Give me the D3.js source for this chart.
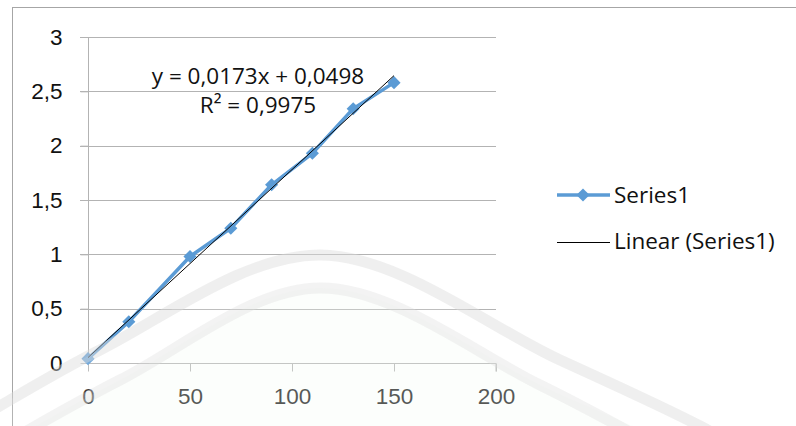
<!DOCTYPE html>
<html>
<head>
<meta charset="utf-8">
<script src="https://cdn.jsdelivr.net/npm/d3@7"></script>
<style>
  body { margin: 0; background: #fff; }
  svg { display: block; font-family: "Open Sans", Lato, sans-serif; }
</style>
</head>
<body>
<script>
// data
const xValues = [0, 20, 50, 70, 90, 110, 130, 150];
const yValues = [0.04, 0.38, 0.98, 1.24, 1.64, 1.93, 2.34, 2.58];
const xTicks = [0, 50, 100, 150, 200];
const yTicks = [0, 0.5, 1, 1.5, 2, 2.5, 3];
const slope = 0.0173;
const intercept = 0.0498;
const eqLabels = ["y = 0,0173x + 0,0498", "R² = 0,9975"];
const legendLabels = ["Series1", "Linear (Series1)"];

const width = 796;
const height = 426;
const blue = "#5b9bd5";
const fontSize = 22.5;

const svg = d3.select("body")
  .append("svg")
  .attr("width", width)
  .attr("height", height);

// outer chart frame
svg.append("rect")
  .attr("x", 12.5).attr("y", 7.5)
  .attr("width", 800).attr("height", 440)
  .attr("fill", "none")
  .attr("stroke", "#a6a6a6");

const xScale = d3.scaleLinear().domain([0, 200]).range([88, 496]);
const yScale = d3.scaleLinear().domain([0, 3]).range([363, 37]);

const fmt = (v) => String(v).replace(".", ",");

// gridlines
svg.append("g")
  .selectAll("line")
  .data(yTicks.filter((d) => d > 0))
  .join("line")
  .attr("x1", 80).attr("x2", xScale(200))
  .attr("y1", (d) => Math.round(yScale(d)) + 0.5)
  .attr("y2", (d) => Math.round(yScale(d)) + 0.5)
  .attr("stroke", "#b3b3b3");

// y axis
const yAxis = d3.axisLeft(yScale).tickValues(yTicks).tickSize(8).tickFormat(fmt);
const gy = svg.append("g")
  .attr("transform", "translate(" + (xScale(0) + 0.5) + ",0)")
  .call(yAxis);
gy.select(".domain").attr("stroke", "#b3b3b3").attr("d", "M0," + yScale(3) + "V" + yScale(0));
gy.selectAll(".tick line").attr("stroke", "#b3b3b3");
gy.selectAll(".tick text")
  .attr("x", -26)
  .attr("font-size", fontSize)
  .attr("fill", "#111");

// x axis
const xAxis = d3.axisBottom(xScale).tickValues(xTicks).tickSize(8).tickFormat(fmt);
const gx = svg.append("g")
  .attr("transform", "translate(0," + (Math.round(yScale(0)) + 0.5) + ")")
  .call(xAxis);
gx.select(".domain").attr("stroke", "#b3b3b3").attr("d", "M" + xScale(0) + ",0H" + xScale(200) + "V8");
gx.selectAll(".tick line").attr("stroke", "#b3b3b3");
gx.selectAll(".tick text")
  .attr("y", 25)
  .attr("font-size", fontSize)
  .attr("fill", "#1a1a1a");

// series line
const pts = xValues.map((x, i) => ({ x: x, y: yValues[i] }));
const lineGen = d3.line()
  .x((d) => xScale(d.x))
  .y((d) => yScale(d.y));

svg.append("path")
  .attr("d", lineGen(pts))
  .attr("fill", "none")
  .attr("stroke", blue)
  .attr("stroke-width", 3.5)
  .attr("stroke-linejoin", "round");

const diamond = d3.symbol().type(d3.symbolDiamond2).size(110);
svg.append("g")
  .selectAll("path")
  .data(pts)
  .join("path")
  .attr("transform", (d) => "translate(" + xScale(d.x) + "," + yScale(d.y) + ")")
  .attr("d", diamond)
  .attr("fill", blue);

// linear trendline
const trend = [0, 150].map((x) => ({ x: x, y: slope * x + intercept }));
svg.append("path")
  .attr("d", lineGen(trend))
  .attr("fill", "none")
  .attr("stroke", "#000")
  .attr("stroke-width", 1);

// equation label
svg.append("g")
  .selectAll("text")
  .data(eqLabels)
  .join("text")
  .attr("x", 258)
  .attr("y", (d, i) => 84 + i * 29)
  .attr("text-anchor", "middle")
  .attr("font-size", fontSize)
  .attr("fill", "#111")
  .text((d) => d);

// legend
const legend = svg.append("g");
legend.append("line")
  .attr("x1", 557).attr("x2", 610)
  .attr("y1", 195).attr("y2", 195)
  .attr("stroke", blue).attr("stroke-width", 3.5);
legend.append("path")
  .attr("transform", "translate(583,195)")
  .attr("d", diamond)
  .attr("fill", blue);
legend.append("line")
  .attr("x1", 557).attr("x2", 610)
  .attr("y1", 242.5).attr("y2", 242.5)
  .attr("stroke", "#000").attr("stroke-width", 1);
legend.selectAll("text")
  .data(legendLabels)
  .join("text")
  .attr("x", 614)
  .attr("y", (d, i) => 203 + i * 46)
  .attr("font-size", fontSize)
  .attr("fill", "#111")
  .text((d) => d);

// faint watermark over the lower part of the page
const wm = svg.append("g").attr("pointer-events", "none");
const dome = d3.line().curve(d3.curveCatmullRom);
const outer = [[-40, 430], [100, 350], [320, 255], [560, 360], [700, 426], [760, 460]];
const inner = [[-40, 470], [120, 380], [320, 288], [540, 385], [680, 460]];
wm.append("path")
  .attr("d", dome(outer.concat([[820, 470], [-40, 470]])))
  .attr("fill", "#fff").attr("fill-opacity", 0.15);
wm.append("path")
  .attr("d", dome(inner.concat([[-40, 480]])))
  .attr("fill", "#eaf5ee").attr("fill-opacity", 0.15);
wm.append("path")
  .attr("d", dome(outer))
  .attr("fill", "none").attr("stroke", "#dcdcdc").attr("stroke-opacity", 0.45).attr("stroke-width", 11);
wm.append("path")
  .attr("d", dome(inner))
  .attr("fill", "none").attr("stroke", "#dcdcdc").attr("stroke-opacity", 0.35).attr("stroke-width", 11);
</script>
</body>
</html>
